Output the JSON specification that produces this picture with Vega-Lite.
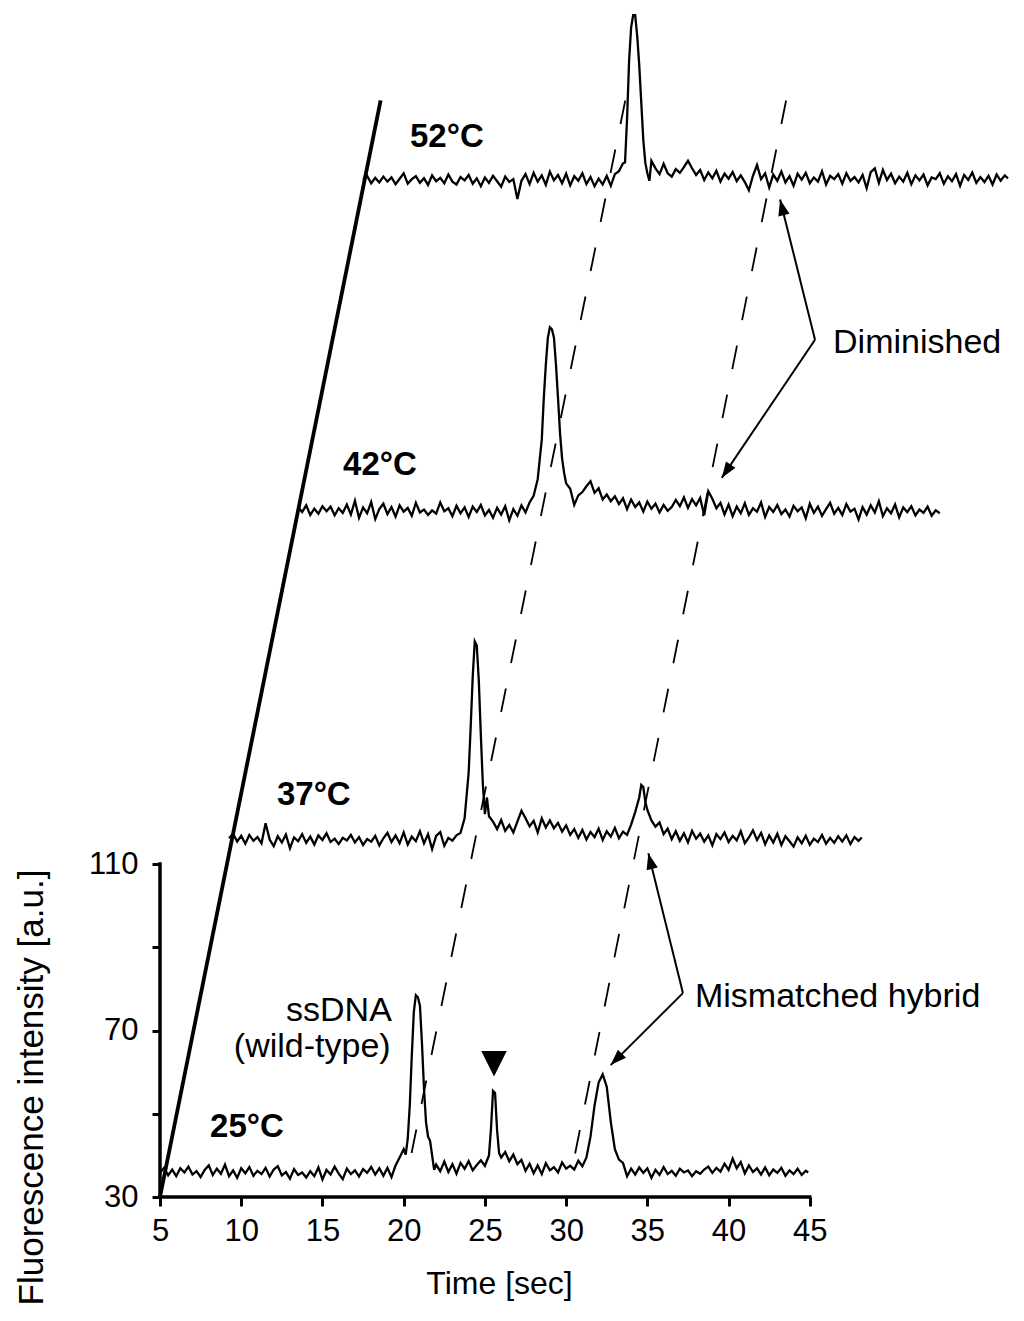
{
"$schema":"https://vega.github.io/schema/vega-lite/v6.json",
"width":861,"height":1186,
"autosize":{"type":"none"},
"padding":{"left":160,"top":11,"right":3,"bottom":124},
"config":{"view":{"stroke":null},"font":"Liberation Sans"},
"datasets":{
"axes":[{"t":5,"v":30,"t2":45,"v2":30},{"t":5,"v":30,"t2":5,"v2":110}],
"guides":[{"g":"slant","t":5,"v":30},{"g":"slant","t":18.58,"v":293.5},{"g":"d1","t":33.64,"v":293.5},{"g":"d1","t":20.3,"v":37},{"g":"d2","t":43.54,"v":293.5},{"g":"d2","t":30.45,"v":38.4}],
"arrows":[{"a":"1","p":"joint","t":45.32,"v":236.0},{"a":"1","p":"tip","t":43.17,"v":269.7},{"a":"2","p":"joint","t":45.32,"v":236.0},{"a":"2","p":"tip","t":39.58,"v":202.8},{"a":"3","p":"joint","t":37.19,"v":79.0},{"a":"3","p":"tip","t":35.06,"v":112.6},{"a":"4","p":"joint","t":37.19,"v":79.0},{"a":"4","p":"tip","t":32.74,"v":61.7}],
"marker":[{"t":25.56,"v":62.0}],
"temps":[{"label":"52°C","t":20.39,"v":282.4},{"label":"42°C","t":16.27,"v":203.6},{"label":"37°C","t":12.2,"v":124.2},{"label":"25°C","t":8.08,"v":44.4}],
"notes":[{"label":"Diminished","t":46.43,"v":232.9},{"label":"Mismatched hybrid","t":37.93,"v":75.7}],
"ssdna":[{"label":"ssDNA","t":19.27,"v":72.3},{"label":"(wild-type)","t":19.2,"v":63.65}],
"traces":[
{"c":"25","t":5,"v":35.8},{"c":"25","t":5.25,"v":37.0},{"c":"25","t":5.5,"v":35.2},{"c":"25","t":5.75,"v":36.6},{"c":"25","t":6,"v":35.0},{"c":"25","t":6.25,"v":36.9},{"c":"25","t":6.5,"v":35.9},{"c":"25","t":6.75,"v":37.3},{"c":"25","t":7,"v":35.4},{"c":"25","t":7.25,"v":36.2},{"c":"25","t":7.5,"v":34.8},{"c":"25","t":7.75,"v":36.5},{"c":"25","t":8,"v":37.6},{"c":"25","t":8.25,"v":35.3},{"c":"25","t":8.5,"v":36.8},{"c":"25","t":8.75,"v":35.6},{"c":"25","t":9,"v":37.8},{"c":"25","t":9.25,"v":35.0},{"c":"25","t":9.5,"v":36.4},{"c":"25","t":9.75,"v":34.6},{"c":"25","t":10,"v":36.9},{"c":"25","t":10.25,"v":35.7},{"c":"25","t":10.5,"v":37.2},{"c":"25","t":10.75,"v":35.1},{"c":"25","t":11,"v":36.3},{"c":"25","t":11.25,"v":35.5},{"c":"25","t":11.5,"v":37.0},{"c":"25","t":11.75,"v":34.9},{"c":"25","t":12,"v":36.6},{"c":"25","t":12.25,"v":37.4},{"c":"25","t":12.5,"v":35.2},{"c":"25","t":12.75,"v":36.0},{"c":"25","t":13,"v":34.4},{"c":"25","t":13.25,"v":36.7},{"c":"25","t":13.5,"v":35.3},{"c":"25","t":13.75,"v":35.9},{"c":"25","t":14,"v":34.7},{"c":"25","t":14.25,"v":36.2},{"c":"25","t":14.5,"v":35.0},{"c":"25","t":14.75,"v":37.1},{"c":"25","t":15,"v":34.2},{"c":"25","t":15.25,"v":36.5},{"c":"25","t":15.5,"v":35.4},{"c":"25","t":15.75,"v":37.3},{"c":"25","t":16,"v":35.6},{"c":"25","t":16.25,"v":34.3},{"c":"25","t":16.5,"v":36.8},{"c":"25","t":16.75,"v":35.5},{"c":"25","t":17,"v":36.4},{"c":"25","t":17.25,"v":34.9},{"c":"25","t":17.5,"v":36.7},{"c":"25","t":17.75,"v":35.8},{"c":"25","t":18,"v":37.2},{"c":"25","t":18.25,"v":35.4},{"c":"25","t":18.5,"v":36.9},{"c":"25","t":18.75,"v":35.1},{"c":"25","t":19,"v":37.0},{"c":"25","t":19.25,"v":34.8},{"c":"25","t":19.5,"v":37.6},{"c":"25","t":19.75,"v":39.5},{"c":"25","t":20,"v":41.5},{"c":"25","t":20.125,"v":40.2},{"c":"25","t":20.25,"v":44.0},{"c":"25","t":20.375,"v":52.0},{"c":"25","t":20.5,"v":64.0},{"c":"25","t":20.625,"v":74.5},{"c":"25","t":20.75,"v":78.5},{"c":"25","t":20.875,"v":78.0},{"c":"25","t":21,"v":76.0},{"c":"25","t":21.125,"v":67.0},{"c":"25","t":21.25,"v":56.0},{"c":"25","t":21.375,"v":48.0},{"c":"25","t":21.5,"v":44.5},{"c":"25","t":21.625,"v":43.5},{"c":"25","t":21.75,"v":40.0},{"c":"25","t":21.875,"v":36.5},{"c":"25","t":22,"v":37.8},{"c":"25","t":22.25,"v":36.2},{"c":"25","t":22.5,"v":38.5},{"c":"25","t":22.75,"v":36.0},{"c":"25","t":23,"v":37.9},{"c":"25","t":23.25,"v":35.6},{"c":"25","t":23.5,"v":38.2},{"c":"25","t":23.75,"v":36.8},{"c":"25","t":24,"v":38.6},{"c":"25","t":24.25,"v":36.4},{"c":"25","t":24.5,"v":37.7},{"c":"25","t":24.75,"v":38.8},{"c":"25","t":25,"v":37.5},{"c":"25","t":25.25,"v":40.0},{"c":"25","t":25.375,"v":46.5},{"c":"25","t":25.5,"v":55.5},{"c":"25","t":25.625,"v":55.0},{"c":"25","t":25.75,"v":46.0},{"c":"25","t":25.875,"v":40.5},{"c":"25","t":26,"v":39.5},{"c":"25","t":26.25,"v":40.8},{"c":"25","t":26.5,"v":38.6},{"c":"25","t":26.75,"v":40.2},{"c":"25","t":27,"v":37.9},{"c":"25","t":27.25,"v":38.9},{"c":"25","t":27.5,"v":36.3},{"c":"25","t":27.75,"v":38.0},{"c":"25","t":28,"v":35.7},{"c":"25","t":28.25,"v":37.6},{"c":"25","t":28.5,"v":35.5},{"c":"25","t":28.75,"v":38.1},{"c":"25","t":29,"v":36.4},{"c":"25","t":29.25,"v":37.2},{"c":"25","t":29.5,"v":35.9},{"c":"25","t":29.75,"v":38.3},{"c":"25","t":30,"v":36.8},{"c":"25","t":30.25,"v":37.5},{"c":"25","t":30.5,"v":36.6},{"c":"25","t":30.75,"v":38.7},{"c":"25","t":31,"v":37.4},{"c":"25","t":31.25,"v":39.5},{"c":"25","t":31.5,"v":44.5},{"c":"25","t":31.75,"v":52.0},{"c":"25","t":32,"v":57.5},{"c":"25","t":32.25,"v":59.5},{"c":"25","t":32.5,"v":56.5},{"c":"25","t":32.75,"v":48.0},{"c":"25","t":33,"v":41.5},{"c":"25","t":33.25,"v":39.0},{"c":"25","t":33.5,"v":38.2},{"c":"25","t":33.75,"v":35.0},{"c":"25","t":34,"v":36.8},{"c":"25","t":34.25,"v":35.4},{"c":"25","t":34.5,"v":37.1},{"c":"25","t":34.75,"v":35.8},{"c":"25","t":35,"v":36.9},{"c":"25","t":35.25,"v":34.6},{"c":"25","t":35.5,"v":36.5},{"c":"25","t":35.75,"v":35.3},{"c":"25","t":36,"v":37.2},{"c":"25","t":36.25,"v":35.5},{"c":"25","t":36.5,"v":36.3},{"c":"25","t":36.75,"v":35.1},{"c":"25","t":37,"v":36.8},{"c":"25","t":37.25,"v":35.9},{"c":"25","t":37.5,"v":36.4},{"c":"25","t":37.75,"v":35.0},{"c":"25","t":38,"v":36.2},{"c":"25","t":38.25,"v":35.6},{"c":"25","t":38.5,"v":36.6},{"c":"25","t":38.75,"v":37.3},{"c":"25","t":39,"v":35.8},{"c":"25","t":39.25,"v":37.0},{"c":"25","t":39.5,"v":36.1},{"c":"25","t":39.75,"v":38.0},{"c":"25","t":40,"v":36.5},{"c":"25","t":40.25,"v":39.2},{"c":"25","t":40.5,"v":36.9},{"c":"25","t":40.75,"v":38.4},{"c":"25","t":41,"v":35.7},{"c":"25","t":41.25,"v":37.6},{"c":"25","t":41.5,"v":36.0},{"c":"25","t":41.75,"v":36.9},{"c":"25","t":42,"v":35.4},{"c":"25","t":42.25,"v":37.1},{"c":"25","t":42.5,"v":35.2},{"c":"25","t":42.75,"v":36.6},{"c":"25","t":43,"v":35.8},{"c":"25","t":43.25,"v":37.0},{"c":"25","t":43.5,"v":35.1},{"c":"25","t":43.75,"v":36.4},{"c":"25","t":44,"v":35.5},{"c":"25","t":44.25,"v":36.8},{"c":"25","t":44.5,"v":35.3},{"c":"25","t":44.75,"v":36.3},{"c":"25","t":44.9,"v":35.9},
{"c":"37","t":9.25,"v":116.2},{"c":"37","t":9.5,"v":117.3},{"c":"37","t":9.75,"v":115.4},{"c":"37","t":10,"v":116.8},{"c":"37","t":10.25,"v":114.9},{"c":"37","t":10.5,"v":117.0},{"c":"37","t":10.75,"v":115.6},{"c":"37","t":11,"v":116.5},{"c":"37","t":11.25,"v":115.0},{"c":"37","t":11.5,"v":119.8},{"c":"37","t":11.75,"v":115.9},{"c":"37","t":12,"v":114.3},{"c":"37","t":12.25,"v":116.7},{"c":"37","t":12.5,"v":115.2},{"c":"37","t":12.75,"v":117.1},{"c":"37","t":13,"v":113.8},{"c":"37","t":13.25,"v":116.4},{"c":"37","t":13.5,"v":115.5},{"c":"37","t":13.75,"v":117.2},{"c":"37","t":14,"v":115.1},{"c":"37","t":14.25,"v":116.6},{"c":"37","t":14.5,"v":114.7},{"c":"37","t":14.75,"v":116.9},{"c":"37","t":15,"v":115.8},{"c":"37","t":15.25,"v":117.4},{"c":"37","t":15.5,"v":115.3},{"c":"37","t":15.75,"v":116.1},{"c":"37","t":16,"v":114.8},{"c":"37","t":16.25,"v":116.3},{"c":"37","t":16.5,"v":115.7},{"c":"37","t":16.75,"v":117.0},{"c":"37","t":17,"v":115.2},{"c":"37","t":17.25,"v":116.5},{"c":"37","t":17.5,"v":114.6},{"c":"37","t":17.75,"v":116.0},{"c":"37","t":18,"v":115.4},{"c":"37","t":18.25,"v":116.8},{"c":"37","t":18.5,"v":114.5},{"c":"37","t":18.75,"v":116.2},{"c":"37","t":19,"v":117.5},{"c":"37","t":19.25,"v":115.3},{"c":"37","t":19.5,"v":116.9},{"c":"37","t":19.75,"v":115.0},{"c":"37","t":20,"v":117.6},{"c":"37","t":20.25,"v":114.7},{"c":"37","t":20.5,"v":116.6},{"c":"37","t":20.75,"v":115.5},{"c":"37","t":21,"v":117.9},{"c":"37","t":21.25,"v":115.0},{"c":"37","t":21.5,"v":117.2},{"c":"37","t":21.75,"v":113.6},{"c":"37","t":22,"v":116.8},{"c":"37","t":22.25,"v":117.7},{"c":"37","t":22.5,"v":114.4},{"c":"37","t":22.75,"v":116.3},{"c":"37","t":23,"v":115.6},{"c":"37","t":23.25,"v":116.9},{"c":"37","t":23.5,"v":117.5},{"c":"37","t":23.75,"v":121.0},{"c":"37","t":24,"v":132.0},{"c":"37","t":24.125,"v":143.0},{"c":"37","t":24.25,"v":155.0},{"c":"37","t":24.375,"v":163.5},{"c":"37","t":24.5,"v":162.5},{"c":"37","t":24.625,"v":154.0},{"c":"37","t":24.75,"v":141.0},{"c":"37","t":24.875,"v":129.0},{"c":"37","t":25,"v":122.0},{"c":"37","t":25.125,"v":126.0},{"c":"37","t":25.25,"v":121.5},{"c":"37","t":25.5,"v":120.2},{"c":"37","t":25.75,"v":118.4},{"c":"37","t":26,"v":120.6},{"c":"37","t":26.25,"v":118.0},{"c":"37","t":26.5,"v":119.4},{"c":"37","t":26.75,"v":117.6},{"c":"37","t":27,"v":120.2},{"c":"37","t":27.25,"v":122.8},{"c":"37","t":27.5,"v":121.0},{"c":"37","t":27.75,"v":119.1},{"c":"37","t":28,"v":120.4},{"c":"37","t":28.25,"v":117.6},{"c":"37","t":28.5,"v":121.0},{"c":"37","t":28.75,"v":118.8},{"c":"37","t":29,"v":120.5},{"c":"37","t":29.25,"v":118.6},{"c":"37","t":29.5,"v":119.9},{"c":"37","t":29.75,"v":117.8},{"c":"37","t":30,"v":119.3},{"c":"37","t":30.25,"v":117.0},{"c":"37","t":30.5,"v":118.4},{"c":"37","t":30.75,"v":116.3},{"c":"37","t":31,"v":118.2},{"c":"37","t":31.25,"v":115.9},{"c":"37","t":31.5,"v":117.7},{"c":"37","t":31.75,"v":116.5},{"c":"37","t":32,"v":118.5},{"c":"37","t":32.25,"v":115.8},{"c":"37","t":32.5,"v":117.9},{"c":"37","t":32.75,"v":116.6},{"c":"37","t":33,"v":118.7},{"c":"37","t":33.25,"v":116.2},{"c":"37","t":33.5,"v":117.8},{"c":"37","t":33.75,"v":117.0},{"c":"37","t":34,"v":119.5},{"c":"37","t":34.25,"v":122.5},{"c":"37","t":34.5,"v":126.0},{"c":"37","t":34.625,"v":129.0},{"c":"37","t":34.75,"v":128.5},{"c":"37","t":34.875,"v":125.0},{"c":"37","t":35,"v":123.0},{"c":"37","t":35.25,"v":120.5},{"c":"37","t":35.5,"v":119.0},{"c":"37","t":35.75,"v":120.0},{"c":"37","t":36,"v":117.2},{"c":"37","t":36.25,"v":118.5},{"c":"37","t":36.5,"v":116.0},{"c":"37","t":36.75,"v":117.9},{"c":"37","t":37,"v":115.6},{"c":"37","t":37.25,"v":117.4},{"c":"37","t":37.5,"v":115.2},{"c":"37","t":37.75,"v":118.0},{"c":"37","t":38,"v":116.1},{"c":"37","t":38.25,"v":117.3},{"c":"37","t":38.5,"v":115.4},{"c":"37","t":38.75,"v":116.9},{"c":"37","t":39,"v":114.5},{"c":"37","t":39.25,"v":117.2},{"c":"37","t":39.5,"v":116.0},{"c":"37","t":39.75,"v":117.6},{"c":"37","t":40,"v":115.3},{"c":"37","t":40.25,"v":116.8},{"c":"37","t":40.5,"v":115.7},{"c":"37","t":40.75,"v":117.9},{"c":"37","t":41,"v":115.0},{"c":"37","t":41.25,"v":116.4},{"c":"37","t":41.5,"v":118.1},{"c":"37","t":41.75,"v":115.8},{"c":"37","t":42,"v":117.5},{"c":"37","t":42.25,"v":114.8},{"c":"37","t":42.5,"v":116.9},{"c":"37","t":42.75,"v":115.2},{"c":"37","t":43,"v":117.3},{"c":"37","t":43.25,"v":114.6},{"c":"37","t":43.5,"v":116.7},{"c":"37","t":43.75,"v":115.5},{"c":"37","t":44,"v":114.2},{"c":"37","t":44.25,"v":116.4},{"c":"37","t":44.5,"v":115.0},{"c":"37","t":44.75,"v":116.8},{"c":"37","t":45,"v":114.6},{"c":"37","t":45.25,"v":116.1},{"c":"37","t":45.5,"v":115.3},{"c":"37","t":45.75,"v":117.0},{"c":"37","t":46,"v":114.9},{"c":"37","t":46.25,"v":116.3},{"c":"37","t":46.5,"v":115.1},{"c":"37","t":46.75,"v":116.7},{"c":"37","t":47,"v":115.4},{"c":"37","t":47.25,"v":116.9},{"c":"37","t":47.5,"v":114.8},{"c":"37","t":47.75,"v":116.5},{"c":"37","t":48,"v":115.6},{"c":"37","t":48.2,"v":116.4},
{"c":"42","t":13.5,"v":195.8},{"c":"42","t":13.75,"v":194.6},{"c":"42","t":14,"v":196.2},{"c":"42","t":14.25,"v":193.9},{"c":"42","t":14.5,"v":195.4},{"c":"42","t":14.75,"v":194.2},{"c":"42","t":15,"v":196.0},{"c":"42","t":15.25,"v":194.8},{"c":"42","t":15.5,"v":195.9},{"c":"42","t":15.75,"v":193.8},{"c":"42","t":16,"v":195.5},{"c":"42","t":16.25,"v":194.4},{"c":"42","t":16.5,"v":196.4},{"c":"42","t":16.75,"v":194.0},{"c":"42","t":17,"v":197.3},{"c":"42","t":17.25,"v":193.2},{"c":"42","t":17.5,"v":195.7},{"c":"42","t":17.75,"v":194.3},{"c":"42","t":18,"v":197.0},{"c":"42","t":18.25,"v":192.9},{"c":"42","t":18.5,"v":195.3},{"c":"42","t":18.75,"v":196.6},{"c":"42","t":19,"v":194.1},{"c":"42","t":19.25,"v":195.8},{"c":"42","t":19.5,"v":193.5},{"c":"42","t":19.75,"v":196.2},{"c":"42","t":20,"v":194.7},{"c":"42","t":20.25,"v":195.6},{"c":"42","t":20.5,"v":193.7},{"c":"42","t":20.75,"v":196.8},{"c":"42","t":21,"v":194.5},{"c":"42","t":21.25,"v":195.2},{"c":"42","t":21.5,"v":193.9},{"c":"42","t":21.75,"v":195.0},{"c":"42","t":22,"v":194.2},{"c":"42","t":22.25,"v":196.9},{"c":"42","t":22.5,"v":194.8},{"c":"42","t":22.75,"v":195.5},{"c":"42","t":23,"v":193.6},{"c":"42","t":23.25,"v":196.1},{"c":"42","t":23.5,"v":194.3},{"c":"42","t":23.75,"v":195.7},{"c":"42","t":24,"v":193.4},{"c":"42","t":24.25,"v":195.9},{"c":"42","t":24.5,"v":194.6},{"c":"42","t":24.75,"v":196.3},{"c":"42","t":25,"v":193.8},{"c":"42","t":25.25,"v":195.1},{"c":"42","t":25.5,"v":193.2},{"c":"42","t":25.75,"v":195.6},{"c":"42","t":26,"v":194.0},{"c":"42","t":26.25,"v":196.0},{"c":"42","t":26.5,"v":192.6},{"c":"42","t":26.75,"v":195.3},{"c":"42","t":27,"v":193.7},{"c":"42","t":27.25,"v":196.2},{"c":"42","t":27.5,"v":194.5},{"c":"42","t":27.75,"v":196.9},{"c":"42","t":28,"v":198.5},{"c":"42","t":28.25,"v":202.5},{"c":"42","t":28.5,"v":212.0},{"c":"42","t":28.625,"v":222.0},{"c":"42","t":28.75,"v":230.0},{"c":"42","t":28.875,"v":236.5},{"c":"42","t":29,"v":239.0},{"c":"42","t":29.125,"v":238.5},{"c":"42","t":29.25,"v":236.5},{"c":"42","t":29.375,"v":230.0},{"c":"42","t":29.5,"v":222.0},{"c":"42","t":29.625,"v":213.5},{"c":"42","t":29.75,"v":207.5},{"c":"42","t":29.875,"v":204.0},{"c":"42","t":30,"v":201.5},{"c":"42","t":30.25,"v":200.2},{"c":"42","t":30.5,"v":196.3},{"c":"42","t":30.75,"v":198.6},{"c":"42","t":31,"v":199.4},{"c":"42","t":31.25,"v":200.8},{"c":"42","t":31.5,"v":202.0},{"c":"42","t":31.75,"v":199.2},{"c":"42","t":32,"v":200.3},{"c":"42","t":32.25,"v":197.6},{"c":"42","t":32.5,"v":198.8},{"c":"42","t":32.75,"v":197.2},{"c":"42","t":33,"v":198.4},{"c":"42","t":33.25,"v":196.5},{"c":"42","t":33.5,"v":197.9},{"c":"42","t":33.75,"v":195.3},{"c":"42","t":34,"v":197.6},{"c":"42","t":34.25,"v":195.8},{"c":"42","t":34.5,"v":196.9},{"c":"42","t":34.75,"v":194.7},{"c":"42","t":35,"v":197.1},{"c":"42","t":35.25,"v":195.4},{"c":"42","t":35.5,"v":196.6},{"c":"42","t":35.75,"v":194.5},{"c":"42","t":36,"v":196.3},{"c":"42","t":36.25,"v":194.9},{"c":"42","t":36.5,"v":195.8},{"c":"42","t":36.75,"v":197.5},{"c":"42","t":37,"v":196.0},{"c":"42","t":37.25,"v":198.1},{"c":"42","t":37.5,"v":195.6},{"c":"42","t":37.75,"v":197.7},{"c":"42","t":38,"v":196.2},{"c":"42","t":38.25,"v":198.0},{"c":"42","t":38.5,"v":193.8},{"c":"42","t":38.75,"v":199.6},{"c":"42","t":39,"v":197.8},{"c":"42","t":39.25,"v":195.5},{"c":"42","t":39.5,"v":196.8},{"c":"42","t":39.75,"v":194.0},{"c":"42","t":40,"v":196.4},{"c":"42","t":40.25,"v":193.6},{"c":"42","t":40.5,"v":195.9},{"c":"42","t":40.75,"v":194.3},{"c":"42","t":41,"v":196.7},{"c":"42","t":41.25,"v":193.9},{"c":"42","t":41.5,"v":195.5},{"c":"42","t":41.75,"v":194.7},{"c":"42","t":42,"v":196.9},{"c":"42","t":42.25,"v":193.4},{"c":"42","t":42.5,"v":195.8},{"c":"42","t":42.75,"v":194.6},{"c":"42","t":43,"v":196.3},{"c":"42","t":43.25,"v":194.1},{"c":"42","t":43.5,"v":195.2},{"c":"42","t":43.75,"v":193.5},{"c":"42","t":44,"v":196.1},{"c":"42","t":44.25,"v":194.8},{"c":"42","t":44.5,"v":195.7},{"c":"42","t":44.75,"v":193.1},{"c":"42","t":45,"v":196.6},{"c":"42","t":45.25,"v":194.4},{"c":"42","t":45.5,"v":195.9},{"c":"42","t":45.75,"v":193.7},{"c":"42","t":46,"v":195.3},{"c":"42","t":46.25,"v":196.8},{"c":"42","t":46.5,"v":194.2},{"c":"42","t":46.75,"v":195.6},{"c":"42","t":47,"v":193.9},{"c":"42","t":47.25,"v":196.5},{"c":"42","t":47.5,"v":194.7},{"c":"42","t":47.75,"v":195.4},{"c":"42","t":48,"v":192.8},{"c":"42","t":48.25,"v":195.8},{"c":"42","t":48.5,"v":194.0},{"c":"42","t":48.75,"v":196.2},{"c":"42","t":49,"v":194.5},{"c":"42","t":49.25,"v":197.2},{"c":"42","t":49.5,"v":193.6},{"c":"42","t":49.75,"v":195.5},{"c":"42","t":50,"v":194.3},{"c":"42","t":50.25,"v":196.4},{"c":"42","t":50.5,"v":193.3},{"c":"42","t":50.75,"v":195.7},{"c":"42","t":51,"v":194.6},{"c":"42","t":51.25,"v":196.0},{"c":"42","t":51.5,"v":193.8},{"c":"42","t":51.75,"v":195.2},{"c":"42","t":52,"v":194.4},{"c":"42","t":52.25,"v":195.9},{"c":"42","t":52.5,"v":193.7},{"c":"42","t":52.75,"v":195.0},{"c":"42","t":53,"v":194.3},
{"c":"52","t":17.5,"v":274.5},{"c":"52","t":17.75,"v":275.4},{"c":"52","t":18,"v":273.6},{"c":"52","t":18.25,"v":274.9},{"c":"52","t":18.5,"v":273.8},{"c":"52","t":18.75,"v":275.2},{"c":"52","t":19,"v":274.0},{"c":"52","t":19.25,"v":275.0},{"c":"52","t":19.5,"v":273.4},{"c":"52","t":19.75,"v":274.7},{"c":"52","t":20,"v":276.0},{"c":"52","t":20.25,"v":273.5},{"c":"52","t":20.5,"v":274.6},{"c":"52","t":20.75,"v":275.3},{"c":"52","t":21,"v":273.7},{"c":"52","t":21.25,"v":274.8},{"c":"52","t":21.5,"v":273.2},{"c":"52","t":21.75,"v":275.5},{"c":"52","t":22,"v":274.1},{"c":"52","t":22.25,"v":274.9},{"c":"52","t":22.5,"v":273.6},{"c":"52","t":22.75,"v":275.7},{"c":"52","t":23,"v":274.0},{"c":"52","t":23.25,"v":273.3},{"c":"52","t":23.5,"v":275.1},{"c":"52","t":23.75,"v":274.3},{"c":"52","t":24,"v":275.6},{"c":"52","t":24.25,"v":273.5},{"c":"52","t":24.5,"v":274.8},{"c":"52","t":24.75,"v":272.9},{"c":"52","t":25,"v":275.0},{"c":"52","t":25.25,"v":273.7},{"c":"52","t":25.5,"v":275.4},{"c":"52","t":25.75,"v":274.1},{"c":"52","t":26,"v":272.8},{"c":"52","t":26.25,"v":275.2},{"c":"52","t":26.5,"v":273.9},{"c":"52","t":26.75,"v":274.6},{"c":"52","t":27,"v":269.8},{"c":"52","t":27.25,"v":274.2},{"c":"52","t":27.5,"v":275.8},{"c":"52","t":27.75,"v":273.4},{"c":"52","t":28,"v":276.1},{"c":"52","t":28.25,"v":274.0},{"c":"52","t":28.5,"v":275.5},{"c":"52","t":28.75,"v":273.2},{"c":"52","t":29,"v":276.4},{"c":"52","t":29.25,"v":274.3},{"c":"52","t":29.5,"v":275.6},{"c":"52","t":29.75,"v":273.6},{"c":"52","t":30,"v":275.9},{"c":"52","t":30.25,"v":273.1},{"c":"52","t":30.5,"v":275.3},{"c":"52","t":30.75,"v":274.2},{"c":"52","t":31,"v":276.0},{"c":"52","t":31.25,"v":273.4},{"c":"52","t":31.5,"v":275.1},{"c":"52","t":31.75,"v":272.9},{"c":"52","t":32,"v":274.7},{"c":"52","t":32.25,"v":273.3},{"c":"52","t":32.5,"v":275.4},{"c":"52","t":32.75,"v":273.0},{"c":"52","t":33,"v":275.8},{"c":"52","t":33.25,"v":276.5},{"c":"52","t":33.5,"v":278.4},{"c":"52","t":33.625,"v":278.6},{"c":"52","t":33.75,"v":289.0},{"c":"52","t":33.875,"v":303.0},{"c":"52","t":34,"v":311.0},{"c":"52","t":34.125,"v":314.0},{"c":"52","t":34.25,"v":314.0},{"c":"52","t":34.375,"v":309.0},{"c":"52","t":34.5,"v":302.0},{"c":"52","t":34.625,"v":293.0},{"c":"52","t":34.75,"v":284.0},{"c":"52","t":34.875,"v":278.5},{"c":"52","t":35,"v":276.0},{"c":"52","t":35.125,"v":274.2},{"c":"52","t":35.25,"v":279.0},{"c":"52","t":35.5,"v":277.2},{"c":"52","t":35.75,"v":275.8},{"c":"52","t":36,"v":278.3},{"c":"52","t":36.25,"v":276.0},{"c":"52","t":36.5,"v":275.2},{"c":"52","t":36.75,"v":277.0},{"c":"52","t":37,"v":276.1},{"c":"52","t":37.25,"v":277.5},{"c":"52","t":37.5,"v":279.0},{"c":"52","t":37.75,"v":277.2},{"c":"52","t":38,"v":275.6},{"c":"52","t":38.25,"v":276.8},{"c":"52","t":38.5,"v":274.4},{"c":"52","t":38.75,"v":276.2},{"c":"52","t":39,"v":274.8},{"c":"52","t":39.25,"v":276.6},{"c":"52","t":39.5,"v":274.0},{"c":"52","t":39.75,"v":275.9},{"c":"52","t":40,"v":274.7},{"c":"52","t":40.25,"v":276.3},{"c":"52","t":40.5,"v":274.1},{"c":"52","t":40.75,"v":275.5},{"c":"52","t":41,"v":273.9},{"c":"52","t":41.25,"v":271.9},{"c":"52","t":41.5,"v":275.4},{"c":"52","t":41.75,"v":278.0},{"c":"52","t":42,"v":274.6},{"c":"52","t":42.25,"v":276.0},{"c":"52","t":42.5,"v":272.6},{"c":"52","t":42.75,"v":275.7},{"c":"52","t":43,"v":274.2},{"c":"52","t":43.25,"v":276.4},{"c":"52","t":43.5,"v":273.8},{"c":"52","t":43.75,"v":275.3},{"c":"52","t":44,"v":273.0},{"c":"52","t":44.25,"v":275.9},{"c":"52","t":44.5,"v":274.5},{"c":"52","t":44.75,"v":276.1},{"c":"52","t":45,"v":273.6},{"c":"52","t":45.25,"v":275.0},{"c":"52","t":45.5,"v":274.0},{"c":"52","t":45.75,"v":276.5},{"c":"52","t":46,"v":273.3},{"c":"52","t":46.25,"v":275.4},{"c":"52","t":46.5,"v":274.6},{"c":"52","t":46.75,"v":275.8},{"c":"52","t":47,"v":273.5},{"c":"52","t":47.25,"v":276.0},{"c":"52","t":47.5,"v":274.2},{"c":"52","t":47.75,"v":275.1},{"c":"52","t":48,"v":273.8},{"c":"52","t":48.25,"v":275.6},{"c":"52","t":48.5,"v":272.4},{"c":"52","t":48.75,"v":276.3},{"c":"52","t":49,"v":277.2},{"c":"52","t":49.25,"v":273.7},{"c":"52","t":49.5,"v":276.8},{"c":"52","t":49.75,"v":274.4},{"c":"52","t":50,"v":275.9},{"c":"52","t":50.25,"v":273.6},{"c":"52","t":50.5,"v":275.2},{"c":"52","t":50.75,"v":274.0},{"c":"52","t":51,"v":276.1},{"c":"52","t":51.25,"v":273.4},{"c":"52","t":51.5,"v":275.5},{"c":"52","t":51.75,"v":274.3},{"c":"52","t":52,"v":275.7},{"c":"52","t":52.25,"v":273.1},{"c":"52","t":52.5,"v":275.0},{"c":"52","t":52.75,"v":274.6},{"c":"52","t":53,"v":276.0},{"c":"52","t":53.25,"v":273.5},{"c":"52","t":53.5,"v":275.3},{"c":"52","t":53.75,"v":274.1},{"c":"52","t":54,"v":275.8},{"c":"52","t":54.25,"v":273.0},{"c":"52","t":54.5,"v":275.6},{"c":"52","t":54.75,"v":274.4},{"c":"52","t":55,"v":276.2},{"c":"52","t":55.25,"v":273.7},{"c":"52","t":55.5,"v":275.1},{"c":"52","t":55.75,"v":273.9},{"c":"52","t":56,"v":275.4},{"c":"52","t":56.25,"v":273.3},{"c":"52","t":56.5,"v":275.7},{"c":"52","t":56.75,"v":274.2},{"c":"52","t":57,"v":275.5},{"c":"52","t":57.2,"v":274.8}
]
},
"encoding":{
"x":{"field":"t","type":"quantitative","scale":{"domain":[5,58],"nice":false,"zero":false},
"axis":{"values":[5,10,15,20,25,30,35,40,45],"domain":false,"grid":false,"ticks":true,"tickSize":9,"tickWidth":3,"tickColor":"black","labelFontSize":31,"labelColor":"black","labelPadding":10,"labelFlush":false,"labelOverlap":false,"labelFont":"Liberation Sans","title":"Time [sec]","titleFont":"Liberation Sans","titleFontSize":32,"titleFontWeight":"normal","titleColor":"black","titleX":339,"titleY":96,"titleBaseline":"alphabetic","titleAlign":"center"}},
"y":{"field":"v","type":"quantitative","scale":{"domain":[30,315],"nice":false,"zero":false},
"axis":{"values":[30,50,70,90,110],"labelExpr":"datum.value == 50 || datum.value == 90 ? '' : datum.label","domain":false,"grid":false,"tickSize":8,"tickWidth":3,"tickColor":"black","labelFontSize":31,"labelColor":"black","labelPadding":14,"labelFlush":false,"labelOverlap":false,"labelFont":"Liberation Sans","title":"Fluorescence intensity [a.u.]","titleFont":"Liberation Sans","titleFontSize":35,"titleFontWeight":"normal","titleColor":"black","titleAngle":-90,"titleX":-118,"titleY":1076,"titleBaseline":"alphabetic","titleAlign":"center"}}
},
"layer":[
{"data":{"name":"axes"},"mark":{"type":"rule","color":"black","strokeWidth":3.5,"strokeCap":"square"},
 "encoding":{"x2":{"field":"t2"},"y2":{"field":"v2"}}},
{"data":{"name":"guides"},"transform":[{"filter":"datum.g == 'slant'"}],"mark":{"type":"line","color":"black","strokeWidth":3.8},"encoding":{}},
{"data":{"name":"guides"},"transform":[{"filter":"datum.g != 'slant'"}],"mark":{"type":"line","color":"black","strokeWidth":1.8,"strokeDash":[24,26]},
 "encoding":{"detail":{"field":"g"},"order":{"field":"v","sort":"descending"}}},
{"data":{"name":"traces"},"mark":{"type":"line","color":"black","strokeWidth":2.3,"strokeJoin":"miter"},
 "encoding":{"detail":{"field":"c"}}},
{"data":{"name":"arrows"},"mark":{"type":"line","color":"black","strokeWidth":2},
 "encoding":{"detail":{"field":"a"}}},
{"data":{"name":"arrows"},"transform":[{"filter":"datum.p == 'tip' && (datum.a == '1' || datum.a == '3')"}],
 "mark":{"type":"point","shape":"M0,0L-0.36,1L0.36,1Z","size":1024,"angle":346,"filled":true,"color":"black","opacity":1}},
{"data":{"name":"arrows"},"transform":[{"filter":"datum.p == 'tip' && datum.a == '2'"}],
 "mark":{"type":"point","shape":"M0,0L-0.36,1L0.36,1Z","size":1024,"angle":214,"filled":true,"color":"black","opacity":1}},
{"data":{"name":"arrows"},"transform":[{"filter":"datum.p == 'tip' && datum.a == '4'"}],
 "mark":{"type":"point","shape":"M0,0L-0.36,1L0.36,1Z","size":1024,"angle":225,"filled":true,"color":"black","opacity":1}},
{"data":{"name":"marker"},"mark":{"type":"point","shape":"M-1,-1L1,-1L0,1Z","size":650,"filled":true,"color":"black","opacity":1}},
{"data":{"name":"temps"},"mark":{"type":"text","font":"Liberation Sans","fontSize":33,"fontWeight":"bold","align":"left","baseline":"alphabetic","color":"black"},
 "encoding":{"text":{"field":"label"}}},
{"data":{"name":"notes"},"mark":{"type":"text","font":"Liberation Sans","fontSize":34,"align":"left","baseline":"alphabetic","color":"black"},
 "encoding":{"text":{"field":"label"}}},
{"data":{"name":"ssdna"},"mark":{"type":"text","font":"Liberation Sans","fontSize":34,"align":"right","baseline":"alphabetic","color":"black"},
 "encoding":{"text":{"field":"label"}}}
]
}
